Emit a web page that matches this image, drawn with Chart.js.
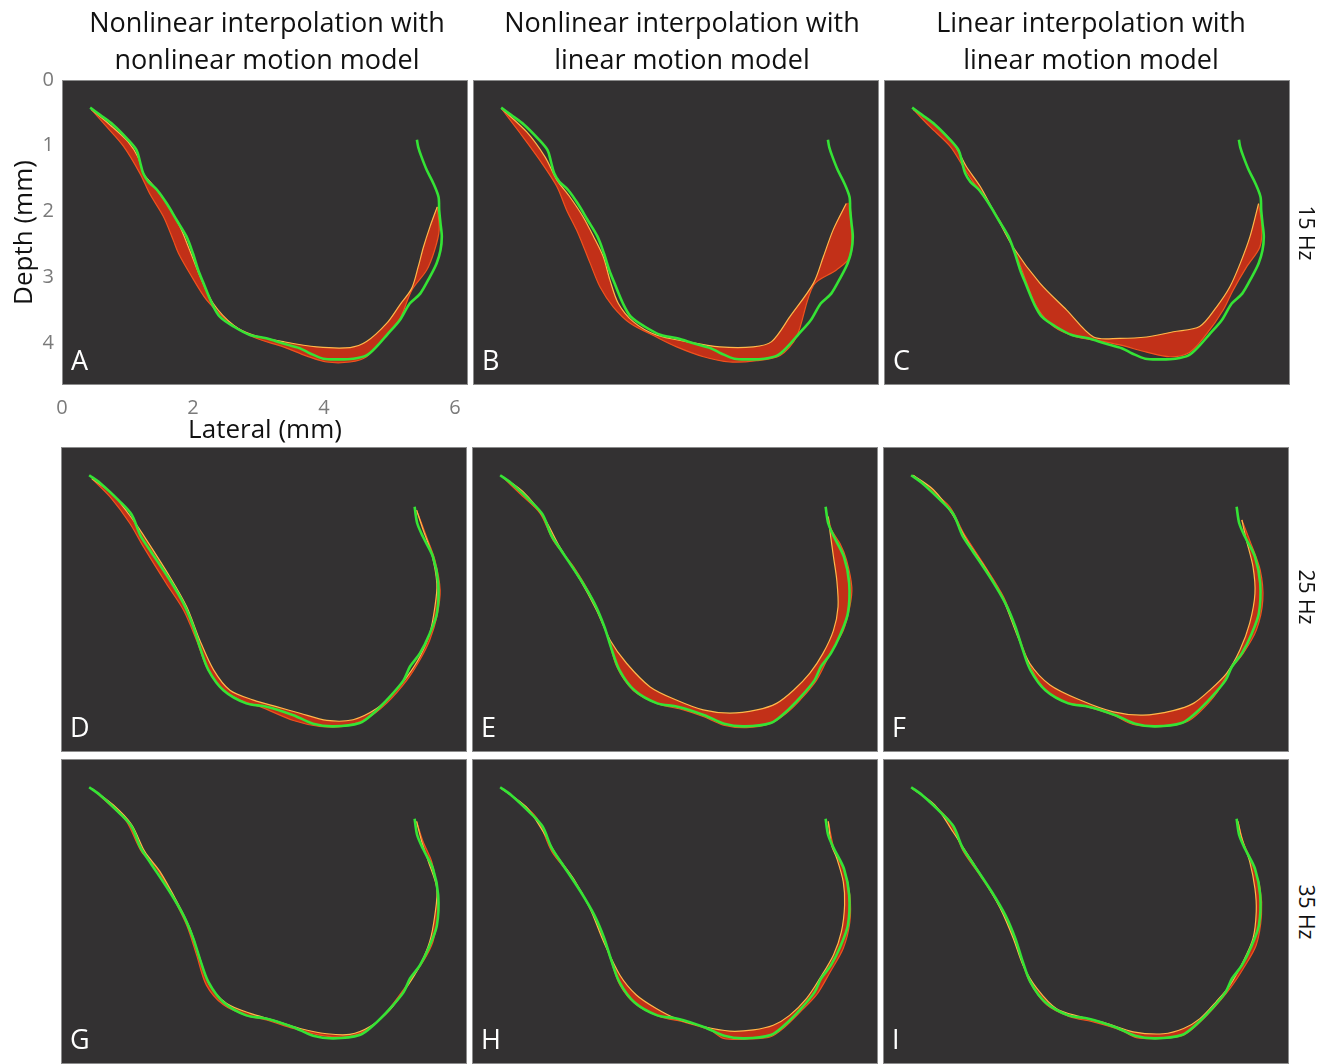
<!DOCTYPE html>
<html>
<head>
<meta charset="utf-8">
<script src="https://cdn.jsdelivr.net/npm/chart.js@4.4.1/dist/chart.umd.min.js"></script>
<style>
  body { margin: 0; background: #fff; font-family: 'Open Sans', sans-serif; }
  #fig { position: relative; width: 1334px; height: 1064px; overflow: hidden; background: #fff; }
  #fig canvas { position: absolute; }
  .col-title { position: absolute; top: 3px; width: 460px; text-align: center; font-size: 27px; line-height: 37px; color: #111; z-index: 2; }
  .row-label { position: absolute; font-size: 21px; color: #111; white-space: nowrap; transform: translate(-50%, -50%) rotate(90deg); z-index: 2; }
  .tag { position: absolute; color: #fff; font-size: 27px; line-height: 27px; z-index: 2; }
</style>
</head>
<body>
<div id="fig">
  <div class="col-title" style="left:37px">Nonlinear interpolation with<br>nonlinear motion model</div>
  <div class="col-title" style="left:452px">Nonlinear interpolation with<br>linear motion model</div>
  <div class="col-title" style="left:861px">Linear interpolation with<br>linear motion model</div>
  <div class="row-label" style="left:1307px; top:233px">15 Hz</div>
  <div class="row-label" style="left:1307px; top:597px">25 Hz</div>
  <div class="row-label" style="left:1307px; top:912px">35 Hz</div>
</div>
<script>
// axes (mm)
const xTicks = [0, 2, 4, 6];
const yTicks = [0, 1, 2, 3, 4];
const lateralMax = 6.2;
const depthMax = 4.64;

// manually traced boundary, [lateral, depth] in mm
const boundary15 = [[0.43,0.42],[0.58,0.53],[0.78,0.68],[1.01,0.91],[1.14,1.07],[1.19,1.24],[1.24,1.42],[1.32,1.55],[1.45,1.67],[1.60,1.88],[1.75,2.13],[1.90,2.38],[2.00,2.64],[2.08,2.89],[2.16,3.09],[2.29,3.40],[2.41,3.60],[2.62,3.75],[2.87,3.88],[3.12,3.93],[3.38,4.01],[3.63,4.08],[3.79,4.16],[3.99,4.24],[4.24,4.25],[4.45,4.24],[4.65,4.19],[4.80,4.06],[4.96,3.88],[5.16,3.65],[5.31,3.40],[5.47,3.25],[5.62,2.99],[5.72,2.79],[5.78,2.59],[5.80,2.38],[5.78,2.18],[5.76,1.98],[5.75,1.78],[5.67,1.57],[5.57,1.37],[5.49,1.17],[5.44,1.02],[5.42,0.91]];
const boundary2535 = [[0.43,0.43],[0.60,0.55],[0.90,0.83],[1.08,1.03],[1.21,1.34],[1.36,1.57],[1.66,2.02],[1.87,2.38],[2.02,2.73],[2.12,3.04],[2.25,3.39],[2.48,3.70],[2.83,3.90],[3.14,3.95],[3.55,4.08],[3.85,4.21],[4.16,4.25],[4.56,4.20],[4.77,4.05],[5.02,3.80],[5.23,3.55],[5.33,3.34],[5.48,3.14],[5.63,2.84],[5.74,2.53],[5.76,2.07],[5.68,1.67],[5.53,1.37],[5.44,1.16],[5.40,0.91]];

// envelope of the interpolated contours: outer and inner edge of each bundle
const outerA = [[0.45,0.45],[0.68,0.71],[0.94,1.01],[1.19,1.42],[1.34,1.73],[1.55,2.08],[1.70,2.44],[1.78,2.64],[1.95,2.94],[2.21,3.35],[2.51,3.65],[2.92,3.91],[3.38,4.06],[3.74,4.20],[4.04,4.29],[4.40,4.29],[4.65,4.21],[4.91,3.93],[5.16,3.63],[5.34,3.20],[5.57,2.89],[5.69,2.59],[5.76,2.28],[5.73,1.93]];
const innerA = [[0.45,0.45],[0.73,0.68],[1.01,0.94],[1.17,1.19],[1.24,1.42],[1.39,1.60],[1.60,1.88],[1.80,2.23],[1.95,2.59],[2.11,2.99],[2.31,3.40],[2.62,3.73],[2.92,3.88],[3.38,3.98],[3.89,4.06],[4.40,4.07],[4.65,3.98],[4.96,3.70],[5.16,3.42],[5.34,3.17],[5.44,2.84],[5.52,2.54],[5.62,2.23],[5.73,1.93]];
const outerB = [[0.44,0.44],[0.72,0.81],[1.02,1.22],[1.28,1.62],[1.43,1.98],[1.58,2.28],[1.71,2.59],[1.79,2.79],[1.94,3.15],[2.14,3.45],[2.40,3.70],[2.80,3.91],[3.11,4.06],[3.52,4.21],[3.92,4.29],[4.33,4.27],[4.69,4.19],[4.94,3.91],[5.20,3.12],[5.55,2.89],[5.76,2.69],[5.78,2.28],[5.76,1.88]];
const innerB = [[0.44,0.44],[0.82,0.79],[1.10,1.17],[1.28,1.52],[1.48,1.78],[1.68,2.08],[1.84,2.38],[1.99,2.69],[2.09,3.04],[2.22,3.40],[2.45,3.68],[2.80,3.88],[3.26,3.98],[3.77,4.06],[4.28,4.06],[4.56,3.98],[4.84,3.60],[5.20,3.09],[5.35,2.69],[5.50,2.28],[5.70,1.88]];
const outerC = [[0.45,0.45],[0.70,0.71],[1.01,1.01],[1.21,1.32],[1.41,1.62],[1.67,1.98],[1.87,2.33],[2.03,2.69],[2.18,3.09],[2.33,3.45],[2.59,3.75],[2.94,3.91],[3.25,3.96],[3.60,4.03],[4.01,4.14],[4.37,4.21],[4.67,4.14],[4.93,3.86],[5.18,3.50],[5.33,3.20],[5.54,2.84],[5.74,2.54],[5.77,2.23],[5.72,1.88]];
const innerC = [[0.45,0.45],[0.75,0.66],[1.06,0.96],[1.26,1.32],[1.47,1.62],[1.72,2.08],[1.97,2.54],[2.38,3.09],[2.79,3.50],[3.20,3.91],[3.60,3.93],[4.01,3.91],[4.42,3.83],[4.82,3.75],[5.08,3.45],[5.28,3.15],[5.44,2.79],[5.59,2.38],[5.72,1.88]];
const outerD = [[0.47,0.48],[0.75,0.76],[1.05,1.16],[1.26,1.52],[1.61,2.08],[1.87,2.48],[2.07,2.94],[2.22,3.34],[2.43,3.65],[2.73,3.85],[3.04,3.95],[3.55,4.16],[3.95,4.25],[4.31,4.25],[4.67,4.13],[4.97,3.90],[5.28,3.55],[5.48,3.24],[5.63,2.94],[5.74,2.58],[5.79,2.18],[5.71,1.72],[5.58,1.36],[5.43,0.96]];
const innerD = [[0.47,0.48],[0.80,0.73],[1.10,1.11],[1.31,1.42],[1.66,1.97],[1.92,2.43],[2.12,2.94],[2.33,3.39],[2.58,3.70],[2.94,3.85],[3.29,3.95],[3.65,4.05],[4.06,4.16],[4.46,4.15],[4.82,3.98],[5.07,3.75],[5.28,3.50],[5.48,3.19],[5.63,2.84],[5.71,2.43],[5.74,2.08],[5.66,1.62],[5.53,1.26],[5.43,0.96]];
const outerE = [[0.45,0.44],[0.73,0.71],[1.04,1.01],[1.24,1.42],[1.55,1.82],[1.85,2.33],[2.06,2.84],[2.21,3.34],[2.46,3.70],[2.82,3.90],[3.23,4.00],[3.53,4.10],[3.84,4.23],[4.19,4.27],[4.55,4.21],[4.80,4.05],[5.01,3.85],[5.26,3.55],[5.47,3.14],[5.67,2.79],[5.77,2.43],[5.80,2.13],[5.72,1.72],[5.62,1.47],[5.49,1.26],[5.44,1.06]];
const innerE = [[0.45,0.44],[0.78,0.68],[1.09,1.06],[1.34,1.52],[1.65,2.02],[1.90,2.48],[2.11,2.94],[2.36,3.29],[2.72,3.65],[3.12,3.85],[3.53,4.00],[3.94,4.05],[4.35,4.00],[4.65,3.90],[4.91,3.70],[5.16,3.44],[5.36,3.14],[5.52,2.79],[5.59,2.43],[5.57,2.02],[5.52,1.67],[5.47,1.31],[5.44,1.06]];
const outerF = [[0.46,0.43],[0.72,0.65],[1.02,0.91],[1.23,1.31],[1.53,1.77],[1.84,2.28],[2.04,2.79],[2.19,3.19],[2.40,3.60],[2.70,3.85],[3.11,3.95],[3.52,4.08],[3.82,4.22],[4.28,4.25],[4.64,4.18],[4.84,4.03],[5.09,3.75],[5.30,3.39],[5.50,3.14],[5.70,2.79],[5.80,2.33],[5.76,1.87],[5.60,1.42],[5.48,1.11]];
const innerF = [[0.46,0.43],[0.77,0.65],[1.05,1.01],[1.28,1.42],[1.58,1.87],[1.84,2.33],[2.04,2.84],[2.24,3.29],[2.55,3.62],[3.01,3.85],[3.52,4.03],[3.97,4.08],[4.43,4.01],[4.74,3.90],[4.99,3.70],[5.25,3.44],[5.45,3.09],[5.60,2.68],[5.68,2.23],[5.65,1.82],[5.55,1.42],[5.48,1.11]];
const outerG = [[0.47,0.45],[0.75,0.70],[1.00,0.95],[1.23,1.41],[1.46,1.66],[1.72,2.12],[1.92,2.53],[2.07,2.98],[2.22,3.44],[2.48,3.74],[2.83,3.90],[3.14,3.97],[3.55,4.10],[3.95,4.20],[4.36,4.23],[4.67,4.12],[4.97,3.85],[5.28,3.44],[5.53,3.08],[5.68,2.78],[5.76,2.37],[5.74,1.97],[5.66,1.56],[5.53,1.26],[5.43,0.95]];
const innerG = [[0.47,0.45],[0.80,0.70],[1.08,1.00],[1.28,1.41],[1.51,1.71],[1.77,2.17],[1.97,2.58],[2.12,3.03],[2.27,3.44],[2.53,3.72],[2.89,3.87],[3.24,3.97],[3.65,4.10],[4.06,4.18],[4.41,4.19],[4.72,4.07],[5.02,3.82],[5.30,3.44],[5.48,3.14],[5.63,2.78],[5.71,2.37],[5.74,1.97],[5.61,1.56],[5.51,1.26],[5.43,0.95]];
const outerH = [[0.45,0.45],[0.73,0.65],[0.99,0.90],[1.22,1.41],[1.50,1.77],[1.75,2.17],[1.95,2.58],[2.11,3.03],[2.26,3.44],[2.51,3.74],[2.87,3.92],[3.23,4.00],[3.63,4.12],[3.84,4.25],[4.24,4.26],[4.55,4.23],[4.75,4.10],[5.01,3.85],[5.26,3.59],[5.47,3.24],[5.67,2.88],[5.77,2.48],[5.77,2.07],[5.69,1.71],[5.54,1.41],[5.44,0.95]];
const innerH = [[0.45,0.45],[0.83,0.73],[1.09,1.11],[1.29,1.46],[1.55,1.82],[1.80,2.27],[2.01,2.78],[2.26,3.29],[2.51,3.59],[2.82,3.80],[3.12,3.95],[3.53,4.07],[3.94,4.14],[4.30,4.12],[4.60,4.05],[4.85,3.90],[5.11,3.64],[5.31,3.34],[5.52,2.98],[5.64,2.63],[5.69,2.22],[5.67,1.87],[5.57,1.51],[5.49,1.31],[5.44,0.95]];
const outerI = [[0.45,0.45],[0.72,0.65],[1.02,0.95],[1.23,1.41],[1.48,1.77],[1.74,2.17],[1.94,2.58],[2.09,2.98],[2.24,3.39],[2.50,3.74],[2.85,3.92],[3.21,4.00],[3.62,4.12],[3.87,4.24],[4.28,4.25],[4.59,4.20],[4.79,4.05],[5.04,3.80],[5.30,3.49],[5.50,3.19],[5.70,2.83],[5.78,2.37],[5.76,1.97],[5.65,1.61],[5.50,1.26],[5.42,0.95]];
const innerI = [[0.45,0.45],[0.79,0.70],[1.07,1.11],[1.30,1.46],[1.53,1.82],[1.79,2.27],[1.99,2.73],[2.14,3.14],[2.35,3.49],[2.65,3.80],[3.01,3.92],[3.41,4.02],[3.82,4.15],[4.28,4.18],[4.59,4.10],[4.84,3.95],[5.09,3.69],[5.30,3.44],[5.50,3.08],[5.65,2.73],[5.70,2.32],[5.68,1.97],[5.60,1.56],[5.48,1.21],[5.42,0.95]];

const panels = [
  {tag: 'A', left: 62,  top: 80,  boundary: boundary15,   outer: outerA, inner: innerA},
  {tag: 'B', left: 473, top: 80,  boundary: boundary15,   outer: outerB, inner: innerB},
  {tag: 'C', left: 884, top: 80,  boundary: boundary15,   outer: outerC, inner: innerC},
  {tag: 'D', left: 61,  top: 447, boundary: boundary2535, outer: outerD, inner: innerD},
  {tag: 'E', left: 472, top: 447, boundary: boundary2535, outer: outerE, inner: innerE},
  {tag: 'F', left: 883, top: 447, boundary: boundary2535, outer: outerF, inner: innerF},
  {tag: 'G', left: 61,  top: 759, boundary: boundary2535, outer: outerG, inner: innerG},
  {tag: 'H', left: 472, top: 759, boundary: boundary2535, outer: outerH, inner: innerH},
  {tag: 'I', left: 883, top: 759, boundary: boundary2535, outer: outerI, inner: innerI},
];

const PANEL_W = 406, PANEL_H = 305;
const font = 'Open Sans';
const fig = document.getElementById('fig');

const toXY = pts => pts.map(([x, y]) => ({x, y}));

// dark frame behind each plot area
const panelBackground = {
  id: 'panelBackground',
  beforeDraw(chart) {
    const {ctx, chartArea: a} = chart;
    ctx.save();
    ctx.fillStyle = '#333132';
    ctx.fillRect(a.left, a.top, a.width, a.height);
    ctx.strokeStyle = '#8c8c8c';
    ctx.lineWidth = 1;
    ctx.strokeRect(a.left + 0.5, a.top + 0.5, a.width - 1, a.height - 1);
    ctx.restore();
  }
};

function lineSet(points, color, width, order, extra) {
  return Object.assign({
    data: toXY(points),
    borderColor: color,
    borderWidth: width,
    pointRadius: 0,
    tension: 0.3,
    fill: false,
    order: order
  }, extra || {});
}

// keep edge tick labels from pushing the plot area inwards
function noEdgePadding(s) {
  s.paddingTop = 0;
  s.paddingBottom = 0;
  s.paddingLeft = 0;
  s.paddingRight = 0;
}

function axisScales(withAxes) {
  if (!withAxes) {
    return {
      x: {type: 'linear', display: false, min: 0, max: lateralMax},
      y: {type: 'linear', display: false, min: 0, max: depthMax, reverse: true}
    };
  }
  return {
    x: {
      type: 'linear', min: 0, max: lateralMax,
      afterBuildTicks: s => { s.ticks = xTicks.map(v => ({value: v})); },
      afterFit: s => { s.height = 65; noEdgePadding(s); },
      grid: {display: false, drawTicks: false},
      border: {display: false},
      ticks: {color: '#7a7a7a', font: {family: font, size: 20}, padding: 11, maxRotation: 0},
      title: {display: true, text: 'Lateral (mm)', color: '#111', font: {family: font, size: 26}, padding: {top: 0, bottom: 4}}
    },
    y: {
      type: 'linear', min: 0, max: depthMax, reverse: true,
      afterBuildTicks: s => { s.ticks = yTicks.map(v => ({value: v})); },
      afterFit: s => { s.width = 62; noEdgePadding(s); },
      grid: {display: false, drawTicks: false},
      border: {display: false},
      ticks: {color: '#7a7a7a', font: {family: font, size: 20}, padding: 8},
      title: {display: true, text: 'Depth (mm)', color: '#111', font: {family: font, size: 26}, padding: {top: 9, bottom: 0}}
    }
  };
}

panels.forEach(p => {
  const withAxes = p.tag === 'A';
  const canvas = document.createElement('canvas');
  canvas.width = withAxes ? 480 : PANEL_W;
  canvas.height = withAxes ? 380 : PANEL_H;
  canvas.style.left = (withAxes ? 0 : p.left) + 'px';
  canvas.style.top = (withAxes ? 70 : p.top) + 'px';
  fig.appendChild(canvas);

  const envelope = p.outer.concat(p.inner.slice().reverse());

  new Chart(canvas, {
    type: 'line',
    data: {
      datasets: [
        lineSet(p.boundary, '#35e335', 2.6, 1),
        lineSet(p.inner, '#ffb84a', 1.2, 2),
        lineSet(p.outer, '#f0521e', 1.2, 2),
        lineSet(envelope, 'rgba(0,0,0,0)', 1, 3, {fill: 'shape', backgroundColor: 'rgba(206,48,22,0.92)'})
      ]
    },
    options: {
      responsive: false,
      animation: false,
      devicePixelRatio: 1,
      layout: {padding: withAxes ? {top: 10, right: 12, left: 0, bottom: 0} : 0},
      scales: axisScales(withAxes),
      plugins: {legend: {display: false}, tooltip: {enabled: false}}
    },
    plugins: [panelBackground]
  });

  const tag = document.createElement('div');
  tag.className = 'tag';
  tag.textContent = p.tag;
  tag.style.left = (p.left + 9) + 'px';
  tag.style.top = (p.top + 266) + 'px';
  fig.appendChild(tag);
});
</script>
</body>
</html>
